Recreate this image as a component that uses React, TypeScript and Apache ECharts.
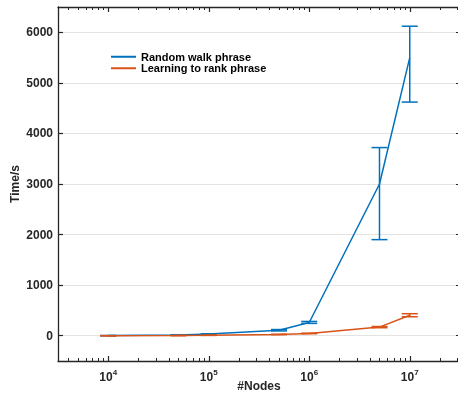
import React, { useEffect, useRef } from "react";
import * as echarts from "echarts";

const nodes = [1e4, 5e4, 1e5, 5e5, 1e6, 5e6, 1e7];
const randomWalk = [2, 12, 32, 108, 262, 3000, 5500];
const randomWalkLow = [0, 8, 26, 95, 244, 1900, 4620];
const randomWalkHigh = [4, 16, 38, 122, 282, 3720, 6120];
const learnToRank = [0, 4, 8, 25, 45, 170, 405];
const learnToRankLow = [0, 3, 6, 22, 40, 158, 375];
const learnToRankHigh = [1, 5, 10, 28, 50, 182, 435];
const seriesNames = ["Random walk phrase", "Learning to rank phrase"];
const xMajorExponents = [4, 5, 6, 7];
const yTicks = [0, 1000, 2000, 3000, 4000, 5000, 6000];

const BLUE = "#0072BD";
const ORANGE = "#D95319";
const INK = "#262626";
const FONT = "'Liberation Sans', Arial, Helvetica, sans-serif";

const X_MIN = 3.5;
const X_MAX = 7.5;

const minorTicks: number[] = [];
for (let n = 3; n <= 7; n++) {
  for (let k = 2; k <= 9; k++) {
    const v = Math.log10(k * Math.pow(10, n));
    if (v > X_MIN && v < X_MAX) minorTicks.push(v);
  }
}

const lx = nodes.map((n) => Math.log10(n));

function errorSeries(name: string, low: number[], high: number[], color: string) {
  return {
    type: "custom",
    name,
    data: lx.map((x, i) => [x, low[i], high[i]]),
    encode: { x: 0, y: [1, 2] },
    renderItem: (params: any, api: any) => {
      const x = api.value(0);
      const pLo = api.coord([x, api.value(1)]);
      const pHi = api.coord([x, api.value(2)]);
      const hw = 8;
      const st = { stroke: color, lineWidth: 1.5 };
      return {
        type: "group",
        children: [
          { type: "line", shape: { x1: pLo[0], y1: pLo[1], x2: pHi[0], y2: pHi[1] }, style: st },
          { type: "line", shape: { x1: pLo[0] - hw, y1: pLo[1], x2: pLo[0] + hw, y2: pLo[1] }, style: st },
          { type: "line", shape: { x1: pHi[0] - hw, y1: pHi[1], x2: pHi[0] + hw, y2: pHi[1] }, style: st },
        ],
      };
    },
    z: 3,
  };
}

export default function App() {
  const ref = useRef<HTMLDivElement>(null);
  useEffect(() => {
    if (!ref.current) return;
    const chart = echarts.init(ref.current, undefined, { renderer: "svg" });
    const axisLine = { show: true, onZero: false, lineStyle: { color: INK, width: 1.3 } };
    const xCommon = { type: "value", min: X_MIN, max: X_MAX, gridIndex: 0 };
    const yCommon = { type: "value", min: -500, max: 6500 };
    chart.setOption({
      animation: false,
      textStyle: { fontFamily: FONT },
      grid: { left: 58, top: 7, width: 402, height: 354, containLabel: false, outerBoundsMode: "none" },
      legend: {
        data: seriesNames.map((n) => ({ name: n, icon: "rect" })),
        orient: "vertical",
        left: 111,
        top: 51,
        padding: 0,
        itemWidth: 25,
        itemHeight: 2,
        itemGap: 0,
        textStyle: { fontFamily: FONT, fontSize: 11, fontWeight: "bold", color: "#000", lineHeight: 11.5 },
      },
      xAxis: [
        {
          ...xCommon,
          position: "bottom",
          axisLine,
          axisTick: { show: true, inside: true, length: 5, customValues: xMajorExponents, lineStyle: { color: INK, width: 1.2 } },
          axisLabel: {
            show: true,
            customValues: xMajorExponents,
            margin: 7,
            formatter: (v: number) => `{b|10}{s|${Math.round(v)}}`,
            rich: {
              b: { fontSize: 12, fontWeight: "bold", color: INK, fontFamily: FONT },
              s: { fontSize: 8, fontWeight: "bold", color: INK, fontFamily: FONT, padding: [0, 0, 9, 0] },
            },
          },
          splitLine: { show: false },
          name: "#Nodes",
          nameLocation: "middle",
          nameGap: 19,
          nameMoveOverlap: false,
          nameTextStyle: { fontSize: 12, fontWeight: "bold", color: INK, fontFamily: FONT },
        },
        {
          ...xCommon,
          position: "bottom",
          axisLine: { show: false, onZero: false },
          axisTick: { show: true, inside: true, length: 3, customValues: minorTicks, lineStyle: { color: INK, width: 1 } },
          axisLabel: { show: false },
          splitLine: { show: false },
        },
        {
          ...xCommon,
          position: "top",
          axisLine,
          axisTick: { show: true, inside: true, length: 5, customValues: xMajorExponents, lineStyle: { color: INK, width: 1.2 } },
          axisLabel: { show: false },
          splitLine: { show: false },
        },
        {
          ...xCommon,
          position: "top",
          axisLine: { show: false, onZero: false },
          axisTick: { show: true, inside: true, length: 3, customValues: minorTicks, lineStyle: { color: INK, width: 1 } },
          axisLabel: { show: false },
          splitLine: { show: false },
        },
      ],
      yAxis: [
        {
          ...yCommon,
          position: "left",
          axisLine,
          axisTick: { show: true, inside: true, length: 5, customValues: yTicks, lineStyle: { color: INK, width: 1.2 } },
          axisLabel: {
            show: true,
            customValues: yTicks,
            margin: 5,
            fontSize: 12,
            fontWeight: "bold",
            color: INK,
            fontFamily: FONT,
            formatter: (v: number) => String(v),
          },
          splitLine: { show: true, lineStyle: { color: "#e3e3e3", width: 1 } },
          name: "Time/s",
          nameLocation: "middle",
          nameGap: 37,
          nameMoveOverlap: false,
          nameTextStyle: { fontSize: 12, fontWeight: "bold", color: INK, fontFamily: FONT },
        },
        {
          ...yCommon,
          position: "right",
          axisLine,
          axisTick: { show: true, inside: true, length: 4, customValues: yTicks, lineStyle: { color: INK, width: 1.2 } },
          axisLabel: { show: false },
          splitLine: { show: false },
        },
      ],
      series: [
        {
          type: "line",
          name: seriesNames[0],
          data: lx.map((x, i) => [x, randomWalk[i]]),
          symbol: "none",
          lineStyle: { color: BLUE, width: 1.5 },
          itemStyle: { color: BLUE },
          z: 2,
        },
        errorSeries("rw-err", randomWalkLow, randomWalkHigh, BLUE),
        {
          type: "line",
          name: seriesNames[1],
          data: lx.map((x, i) => [x, learnToRank[i]]),
          symbol: "none",
          lineStyle: { color: ORANGE, width: 1.5 },
          itemStyle: { color: ORANGE },
          z: 4,
        },
        { ...errorSeries("lr-err", learnToRankLow, learnToRankHigh, ORANGE), z: 5 },
      ],
    });
    return () => chart.dispose();
  }, []);
  return <div ref={ref} style={{ position: "fixed", left: 0, top: 0, width: 458, height: 397 }} />;
}
